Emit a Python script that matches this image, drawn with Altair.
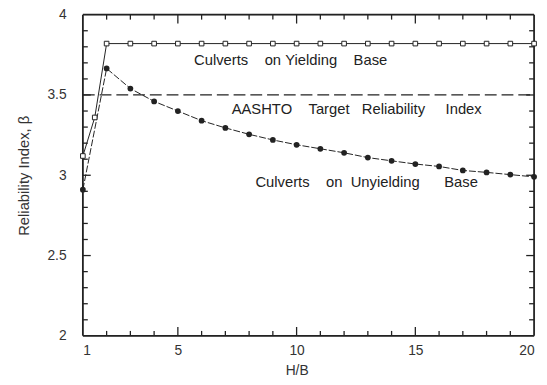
import altair as alt
import pandas as pd

# ---- data ----
yield_x = [1, 1.5, 2, 3, 4, 5, 6, 7, 8, 9, 10, 11, 12, 13, 14, 15, 16, 17, 18, 19, 20]
yield_y = [3.12, 3.36, 3.82, 3.82, 3.82, 3.82, 3.82, 3.82, 3.82, 3.82, 3.82,
           3.82, 3.82, 3.82, 3.82, 3.82, 3.82, 3.82, 3.82, 3.82, 3.82]
unyield_x = [1, 2, 3, 4, 5, 6, 7, 8, 9, 10, 11, 12, 13, 14, 15, 16, 17, 18, 19, 20]
unyield_y = [2.91, 3.665, 3.54, 3.46, 3.40, 3.34, 3.295, 3.255, 3.22, 3.19, 3.165,
             3.14, 3.11, 3.09, 3.07, 3.055, 3.03, 3.018, 3.004, 2.99]
target_beta = 3.5

label_texts = ["Culverts\u00a0\u00a0\u00a0\u00a0on\u00a0Yielding\u00a0\u00a0\u00a0\u00a0Base",
               "AASHTO\u00a0\u00a0\u00a0\u00a0Target\u00a0\u00a0\u00a0Reliability\u00a0\u00a0\u00a0\u00a0\u00a0Index",
               "Culverts\u00a0\u00a0\u00a0\u00a0on\u00a0\u00a0Unyielding\u00a0\u00a0\u00a0\u00a0\u00a0\u00a0Base"]
label_x = [9.75, 12.53, 12.95]
label_y = [3.72, 3.41, 2.957]

x_major = [1, 5, 10, 15, 20]
x_minor = [2, 3, 4, 6, 7, 8, 9, 11, 12, 13, 14, 16, 17, 18, 19]
y_major = [2, 2.5, 3, 3.5, 4]
y_minor = [2.1, 2.2, 2.3, 2.4, 2.6, 2.7, 2.8, 2.9, 3.1, 3.2, 3.3, 3.4,
           3.6, 3.7, 3.8, 3.9]

W, H = 458, 326
FONT = "Liberation Sans"
INK = "#222222"
X0, X1 = 1, 20
Y0, Y1 = 2, 4

xs = alt.Scale(domain=[X0, X1], nice=False, zero=False)
ys = alt.Scale(domain=[Y0, Y1], nice=False, zero=False)

df_y = pd.DataFrame({"x": yield_x, "y": yield_y})
df_u = pd.DataFrame({"x": unyield_x, "y": unyield_y})
df_t = pd.DataFrame({"y": [target_beta]})
df_lab = pd.DataFrame({"t": label_texts, "x": label_x, "y": label_y})
df_xM = pd.DataFrame({"x": x_major[1:-1]})
df_xm = pd.DataFrame({"x": x_minor})
df_yM = pd.DataFrame({"y": y_major[1:-1]})
df_ym = pd.DataFrame({"y": y_minor})
df_fx = pd.DataFrame({"x": [X0, X1]})   # left / right frame edges
df_fy = pd.DataFrame({"y": [Y0, Y1]})   # bottom / top frame edges

x_enc = alt.X("x:Q", scale=xs, axis=alt.Axis(
    values=x_major, title="H/B", ticks=False, domain=False, grid=False,
    labelFont=FONT, labelFontSize=14, labelColor="#333333", labelPadding=8,
    titleFont=FONT, titleFontSize=14, titleFontWeight="normal", titleColor="#333333",
    titlePadding=6, titleX=217))
y_enc = alt.Y("y:Q", scale=ys, axis=alt.Axis(
    values=y_major, format="~g", title="Reliability Index, β", ticks=False,
    domain=False, grid=False,
    labelFont=FONT, labelFontSize=14, labelColor="#333333", labelPadding=17,
    titleFont=FONT, titleFontSize=15, titleFontWeight="normal", titleColor="#333333",
    titlePadding=16))
xq = alt.X("x:Q", scale=xs)
yq = alt.Y("y:Q", scale=ys)

line_u = alt.Chart(df_u).mark_line(color=INK, strokeWidth=1, strokeDash=[7, 2]).encode(x=x_enc, y=y_enc)
pts_u = alt.Chart(df_u).mark_point(shape="circle", filled=True, color=INK, size=34,
                                   opacity=1).encode(x=xq, y=yq)
line_y = alt.Chart(df_y).mark_line(color=INK, strokeWidth=1).encode(x=xq, y=yq)
pts_y = alt.Chart(df_y).mark_point(shape="square", filled=True, fill="white", stroke=INK,
                                   strokeWidth=1, size=22, opacity=1).encode(x=xq, y=yq)

target = alt.Chart(df_t).mark_rule(color=INK, strokeWidth=1.3, strokeDash=[12, 5]).encode(
    y=yq, x=alt.value(0), x2=alt.value(W))

labels = alt.Chart(df_lab).mark_text(font=FONT, fontSize=15, color=INK).encode(
    x=xq, y=yq, text="t:N")


def xticks(df, ln):
    bot = alt.Chart(df).mark_rule(color=INK, strokeWidth=1.3).encode(
        x=xq, y=alt.value(H), y2=alt.value(H - ln))
    top = alt.Chart(df).mark_rule(color=INK, strokeWidth=1.3).encode(
        x=xq, y=alt.value(0), y2=alt.value(ln))
    return [bot, top]


def yticks(df, ln):
    lft = alt.Chart(df).mark_rule(color=INK, strokeWidth=1.3).encode(
        y=yq, x=alt.value(0), x2=alt.value(ln))
    rgt = alt.Chart(df).mark_rule(color=INK, strokeWidth=1.3).encode(
        y=yq, x=alt.value(W), x2=alt.value(W - ln))
    return [lft, rgt]


# dark frame drawn the same way as the ticks (field on one axis, full span on the other)
frame = [
    alt.Chart(df_fx).mark_rule(color=INK, strokeWidth=1.8).encode(
        x=xq, y=alt.value(0), y2=alt.value(H)),
    alt.Chart(df_fy).mark_rule(color=INK, strokeWidth=1.8).encode(
        y=yq, x=alt.value(0), x2=alt.value(W)),
]

layers = [line_u, target, labels] + xticks(df_xM, 9) + xticks(df_xm, 5) \
    + yticks(df_yM, 8) + yticks(df_ym, 5) + frame + [line_y, pts_y, pts_u]

chart = alt.layer(*layers).properties(
    width=W, height=H,
    autosize=alt.AutoSizeParams(type="none"),
    padding={"left": 76, "top": 4, "right": 5, "bottom": 40},
    background="white",
)

chart.save("out.html", embed_options={"renderer": "svg", "actions": False})
